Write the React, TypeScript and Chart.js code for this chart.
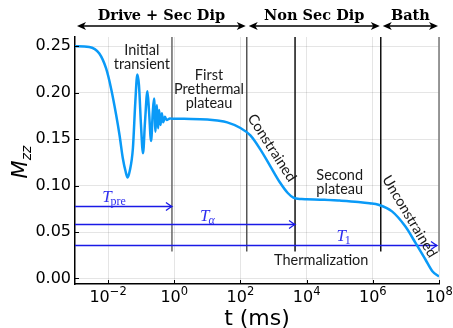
import React, { useEffect, useRef } from "react";
import { Chart, registerables } from "chart.js";
Chart.register(...registerables);

// ---- data ----
const xTickExponents = [-2, 0, 2, 4, 6, 8];
const xTickBase = "10";
const xTickSuperscripts = ["−2", "0", "2", "4", "6", "8"];
const yTickValues = [0, 0.05, 0.1, 0.15, 0.2, 0.25];
const yTickLabels = ["0.00", "0.05", "0.10", "0.15", "0.20", "0.25"];

// log10(t / ms) and M_zz
const curveLogT = [
  -3.0, -2.57, -2.265, -2.06, -1.91, -1.756, -1.655, -1.555, -1.47, -1.41, -1.35, -1.25,
  -1.177, -1.116, -1.067, -1.006, -0.945, -0.884, -0.811, -0.762, -0.701, -0.649, -0.61,
  -0.567, -0.527, -0.488, -0.457, -0.415, -0.375, -0.335, -0.284, -0.232, -0.13, -0.07,
  0.5, 1.0, 1.3, 1.6, 2.0, 2.3, 2.6, 2.9, 3.2, 3.43, 3.6, 3.85, 4.0, 4.54, 5.0, 5.56,
  5.9, 6.17, 6.58, 6.98, 7.29, 7.59, 7.8, 8.0,
];
const curveM = [
  0.2500, 0.2493, 0.2422, 0.2261, 0.2046, 0.1760, 0.1545, 0.1295, 0.1151, 0.1087, 0.1151, 0.1402,
  0.1902, 0.2196, 0.2082, 0.1652, 0.1348, 0.1688, 0.2017, 0.1795, 0.1481, 0.1795, 0.1939,
  0.1580, 0.1867, 0.1617, 0.1813, 0.1652, 0.1778, 0.1681, 0.1741, 0.1706, 0.1722, 0.1720,
  0.1718, 0.1712, 0.1700, 0.1680, 0.1620, 0.1540, 0.1390, 0.1210, 0.1030, 0.0920, 0.0870, 0.0855,
  0.0853, 0.0848, 0.0838, 0.0823, 0.0810, 0.0794, 0.0722, 0.0561, 0.0383, 0.0204, 0.0078, 0.0020,
];

const regionBoundaryLogT = [-0.07, 2.19, 3.65, 6.24, 8.0];
const regionBoundaryColors = ["#666", "#555", "#111", "#111", "#777"];
const regionLineBottomM = 0.029;

const topRegionNames = ["Drive + Sec Dip", "Non Sec Dip", "Bath"];
const topRegionStartLogT = [-3.0, 2.19, 6.24];
const topRegionEndLogT = [2.19, 6.24, 8.0];

const timescaleNames = ["pre", "α", "1"];
const timescaleM = [0.078, 0.0587, 0.036];
const timescaleEndLogT = [-0.07, 3.65, 7.94];
const timescaleLabelLogT = [-2.18, 0.78, 4.9];
const timescaleLabelM = [0.0826, 0.0622, 0.0408];

const noteTexts = ["Initial", "transient", "First", "Prethermal", "plateau", "Constrained", "Second", "plateau", "Unconstrained", "Thermalization"];
const noteLogT = [-0.98, -0.98, 1.05, 1.05, 1.05, 2.95, 5.0, 5.0, 7.11, 4.44];
const noteM = [0.2457, 0.2304, 0.2189, 0.2034, 0.1889, 0.1406, 0.1105, 0.0962, 0.0668, 0.0196];
const noteAngle = [0, 0, 0, 0, 0, 57, 0, 0, 59, 0];

const X_MIN = 1e-3;
const X_MAX = 1e8;
const Y_MIN = -0.006;
const Y_MAX = 0.26;

function arrowHeadOpen(ctx: CanvasRenderingContext2D, x: number, y: number) {
  ctx.beginPath();
  ctx.moveTo(x - 6, y - 4);
  ctx.quadraticCurveTo(x - 2, y - 1, x, y);
  ctx.quadraticCurveTo(x - 2, y + 1, x - 6, y + 4);
  ctx.stroke();
}

function stealth(ctx: CanvasRenderingContext2D, x: number, y: number, dir: number) {
  ctx.beginPath();
  ctx.moveTo(x, y);
  ctx.lineTo(x - dir * 9, y - 4);
  ctx.lineTo(x - dir * 6.5, y);
  ctx.lineTo(x - dir * 9, y + 4);
  ctx.closePath();
  ctx.fill();
}

const annotPlugin = {
  id: "annot",
  beforeDatasetsDraw(chart: any) {
    const ctx: CanvasRenderingContext2D = chart.ctx;
    const xs = chart.scales.x;
    const ys = chart.scales.y;
    const area = chart.chartArea;
    ctx.save();
    ctx.lineWidth = 1.5;
    regionBoundaryLogT.forEach((e, i) => {
      const px = xs.getPixelForValue(10 ** e);
      ctx.strokeStyle = regionBoundaryColors[i];
      ctx.beginPath();
      ctx.moveTo(px, area.top);
      ctx.lineTo(px, ys.getPixelForValue(regionLineBottomM));
      ctx.stroke();
    });
    ctx.strokeStyle = "#1a1ae6";
    ctx.lineWidth = 1.3;
    timescaleM.forEach((m, i) => {
      const py = Math.round(ys.getPixelForValue(m)) + 0.5;
      const x1 = xs.getPixelForValue(10 ** timescaleEndLogT[i]);
      ctx.beginPath();
      ctx.moveTo(area.left, py);
      ctx.lineTo(x1, py);
      ctx.stroke();
      arrowHeadOpen(ctx, x1, py);
    });
    ctx.restore();
  },
  afterDraw(chart: any) {
    const ctx: CanvasRenderingContext2D = chart.ctx;
    const xs = chart.scales.x;
    const ys = chart.scales.y;
    const area = chart.chartArea;
    ctx.save();
    // inner tick marks
    ctx.strokeStyle = "#000";
    ctx.lineWidth = 1;
    xTickExponents.forEach((e) => {
      const px = Math.round(xs.getPixelForValue(10 ** e)) + 0.5;
      ctx.beginPath();
      ctx.moveTo(px, area.bottom);
      ctx.lineTo(px, area.bottom - 4);
      ctx.stroke();
    });
    yTickValues.forEach((v) => {
      const py = Math.round(ys.getPixelForValue(v)) + 0.5;
      ctx.beginPath();
      ctx.moveTo(area.left, py);
      ctx.lineTo(area.left + 4, py);
      ctx.stroke();
    });

    // x tick labels with superscripts
    ctx.fillStyle = "#000";
    ctx.textAlign = "left";
    ctx.textBaseline = "alphabetic";
    xTickExponents.forEach((e, i) => {
      const px = xs.getPixelForValue(10 ** e);
      ctx.font = "16px 'DejaVu Sans'";
      const bw = ctx.measureText(xTickBase).width;
      ctx.font = "11.5px 'DejaVu Sans'";
      const sw = ctx.measureText(xTickSuperscripts[i]).width;
      const x0 = px - (bw + sw) / 2;
      const by = area.bottom + 18;
      ctx.font = "16px 'DejaVu Sans'";
      ctx.fillText(xTickBase, x0, by);
      ctx.font = "11.5px 'DejaVu Sans'";
      ctx.fillText(xTickSuperscripts[i], x0 + bw, by - 7);
    });

    // top region arrows
    ctx.fillStyle = "#000";
    ctx.strokeStyle = "#000";
    ctx.lineWidth = 1.6;
    const ay = area.top - 11;
    topRegionNames.forEach((name, i) => {
      const x0 = xs.getPixelForValue(10 ** topRegionStartLogT[i]) + 2;
      const x1 = xs.getPixelForValue(10 ** topRegionEndLogT[i]) - 1;
      ctx.beginPath();
      ctx.moveTo(x0 + 5, ay);
      ctx.lineTo(x1 - 5, ay);
      ctx.stroke();
      stealth(ctx, x0, ay, -1);
      stealth(ctx, x1, ay, 1);
      ctx.font = "bold 14.5px 'DejaVu Serif'";
      ctx.textAlign = "center";
      ctx.textBaseline = "alphabetic";
      ctx.fillText(name, (x0 + x1) / 2, ay - 6);
    });

    // timescale labels
    ctx.fillStyle = "#3030f0";
    timescaleNames.forEach((sub, i) => {
      const px = xs.getPixelForValue(10 ** timescaleLabelLogT[i]);
      const py = ys.getPixelForValue(timescaleLabelM[i]);
      ctx.textAlign = "left";
      ctx.textBaseline = "alphabetic";
      ctx.font = "italic 17px 'Liberation Serif'";
      ctx.fillText("T", px, py);
      const w = ctx.measureText("T").width;
      ctx.font = (sub === "α" ? "italic " : "") + "12px 'Liberation Serif'";
      ctx.fillText(sub, px + w - 1, py + 3);
    });

    // notes
    ctx.fillStyle = "#1a1a1a";
    ctx.font = "14.5px Lato";
    ctx.textAlign = "center";
    ctx.textBaseline = "middle";
    noteTexts.forEach((t, i) => {
      const px = xs.getPixelForValue(10 ** noteLogT[i]);
      const py = ys.getPixelForValue(noteM[i]);
      ctx.save();
      ctx.translate(px, py);
      ctx.rotate((noteAngle[i] * Math.PI) / 180);
      ctx.fillText(t, 0, 0);
      ctx.restore();
    });

    // axis titles
    ctx.fillStyle = "#000";
    ctx.font = "22px 'DejaVu Sans'";
    ctx.textAlign = "center";
    ctx.textBaseline = "alphabetic";
    ctx.fillText("t (ms)", (area.left + area.right) / 2, 325);

    ctx.save();
    ctx.translate(27, 162);
    ctx.rotate(-Math.PI / 2);
    ctx.font = "italic 21px 'DejaVu Sans'";
    const mW = ctx.measureText("M").width;
    ctx.font = "italic 14px 'DejaVu Sans'";
    const zW = ctx.measureText("zz").width;
    const start = -(mW + zW) / 2;
    ctx.textAlign = "left";
    ctx.font = "italic 21px 'DejaVu Sans'";
    ctx.fillText("M", start, 0);
    ctx.font = "italic 14px 'DejaVu Sans'";
    ctx.fillText("zz", start + mW, 4);
    ctx.restore();

    ctx.restore();
  },
};

export default function App() {
  const ref = useRef<HTMLCanvasElement>(null);
  useEffect(() => {
    document.body.style.margin = "0";
    const canvas = ref.current!;
    const chart = new Chart(canvas, {
      type: "line",
      data: {
        datasets: [
          {
            data: curveLogT.map((e, i) => ({ x: 10 ** e, y: curveM[i] })),
            borderColor: "#0a9af7",
            borderWidth: 2.5,
            pointRadius: 0,
            cubicInterpolationMode: "monotone",
            fill: false,
          },
        ],
      },
      options: {
        animation: false,
        responsive: false,
        devicePixelRatio: 1,
        layout: { padding: { left: 0, right: 14, top: 37, bottom: 0 } },
        plugins: { legend: { display: false }, tooltip: { enabled: false } },
        scales: {
          x: {
            type: "logarithmic",
            min: X_MIN,
            max: X_MAX,
            afterBuildTicks: (s: any) => {
              s.ticks = xTickExponents.map((e) => ({ value: 10 ** e }));
            },
            afterFit: (s: any) => {
              s.height = 44;
              s.paddingLeft = 0;
              s.paddingRight = 0;
            },
            grid: { color: "rgba(0,0,0,0.1)", drawTicks: false, lineWidth: 1 },
            border: { display: true, color: "#000", width: 1.5 },
            ticks: { display: false, autoSkip: false, maxRotation: 0 },
          },
          y: {
            type: "linear",
            min: Y_MIN,
            max: Y_MAX,
            afterBuildTicks: (s: any) => {
              s.ticks = yTickValues.map((v) => ({ value: v }));
            },
            afterFit: (s: any) => {
              s.width = 75;
              s.paddingTop = 0;
              s.paddingBottom = 0;
            },
            grid: { color: "rgba(0,0,0,0.1)", drawTicks: false, lineWidth: 1 },
            border: { display: true, color: "#000", width: 1.5 },
            ticks: {
              padding: 4,
              color: "#000",
              font: { family: "'DejaVu Sans'", size: 16 },
              callback: (_v: any, i: number) => yTickLabels[i],
            },
          },
        },
      },
      plugins: [annotPlugin],
    });
    return () => chart.destroy();
  }, []);
  return (
    <div style={{ position: "fixed", left: 0, top: 0, width: 453, height: 328 }}>
      <canvas ref={ref} width={453} height={328} />
    </div>
  );
}
